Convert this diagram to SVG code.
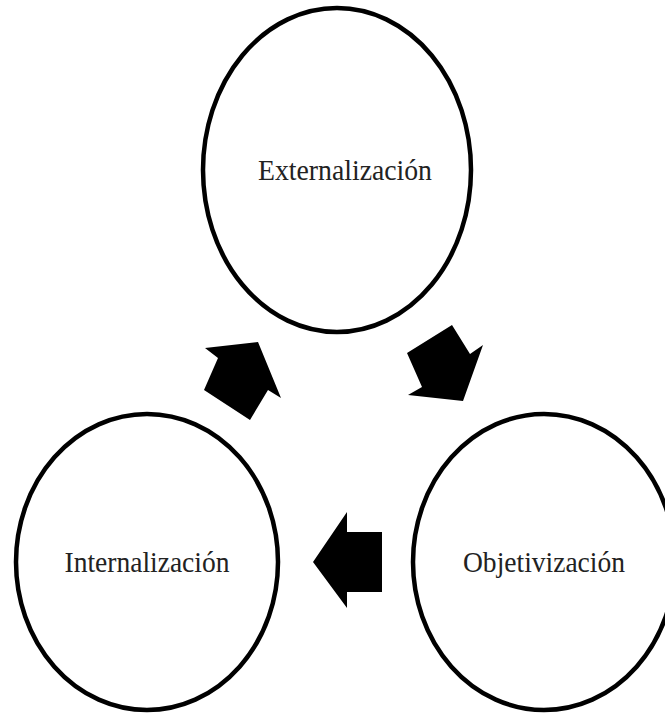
<svg xmlns="http://www.w3.org/2000/svg" width="665" height="715" viewBox="0 0 665 715">
<style>
.node ellipse{fill:#fff;stroke:#000;stroke-width:4.5}
.node text{font-family:"Liberation Serif","Times New Roman",serif;font-size:29px;fill:#222;text-anchor:middle}
.arrow{fill:#000;stroke:none}
</style>
<rect width="665" height="715" fill="#fff"/>
<g id="externalizacion" class="node">
<ellipse cx="337" cy="170" rx="134" ry="162"/>
<text x="345" y="180" textLength="174" lengthAdjust="spacingAndGlyphs">Externalización</text>
</g>
<g id="internalizacion" class="node">
<ellipse cx="147" cy="562" rx="131" ry="148"/>
<text x="147" y="572" textLength="165" lengthAdjust="spacingAndGlyphs">Internalización</text>
</g>
<g id="objetivizacion" class="node">
<ellipse cx="544" cy="562" rx="131" ry="148"/>
<text x="544" y="572" textLength="162" lengthAdjust="spacingAndGlyphs">Objetivización</text>
</g>
<g id="connectors">
<polygon class="arrow" points="452,325 470,354 483,345 463,401 408,395 422,387 407,353"/>
<polygon class="arrow" points="382,532 347,532 347,512 313,562 347,608 347,592 382,592"/>
<polygon class="arrow" points="250,420 204,390 218,358 205,348 258,342 281,398 268,390"/>
</g>
</svg>
